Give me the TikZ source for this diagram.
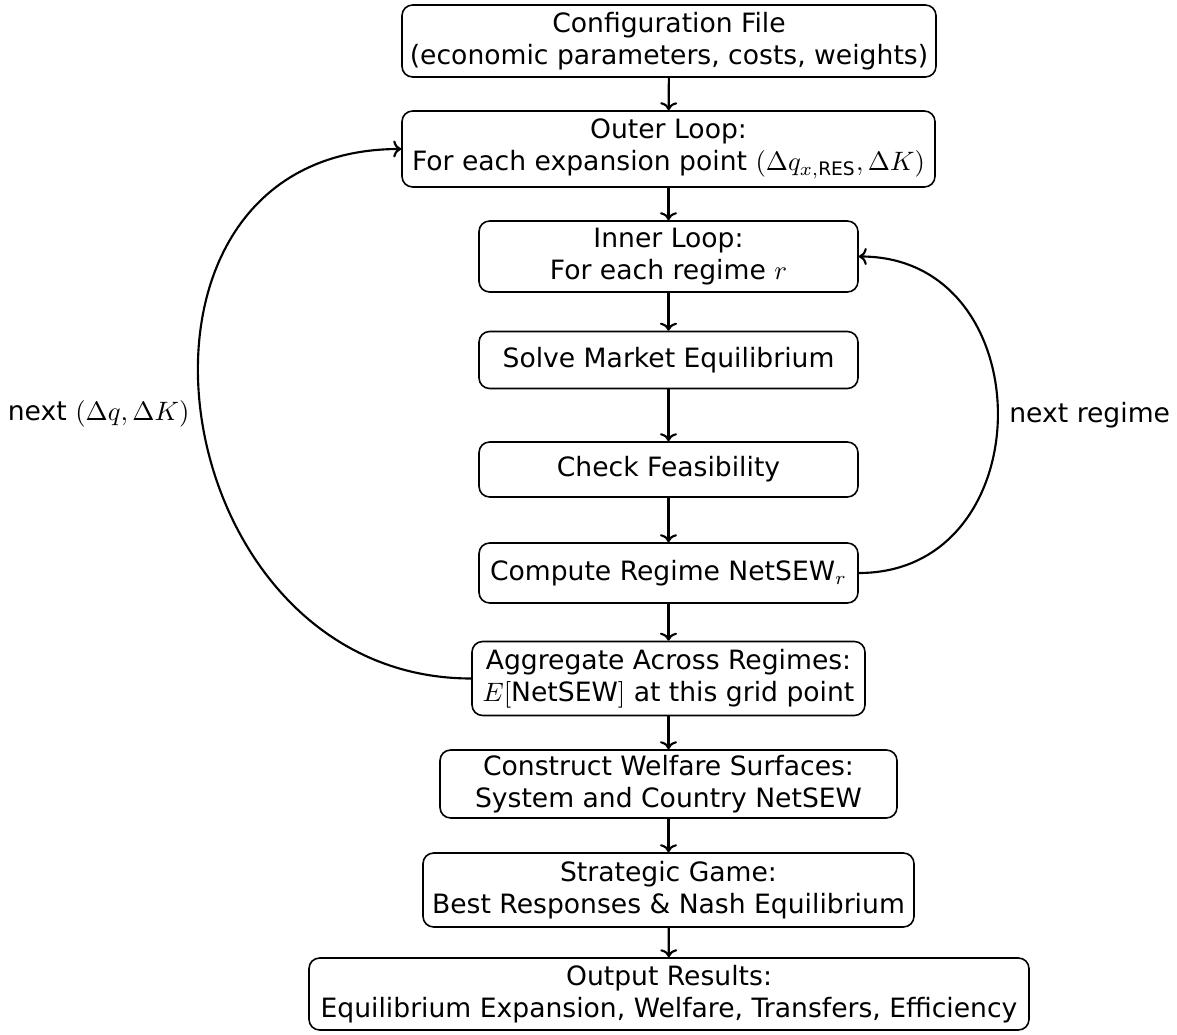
\documentclass[tikz,border=0pt]{standalone}
\usepackage{amsmath}
\usepackage{fontspec}
\setmainfont{DejaVu Sans}
\usetikzlibrary{arrows.meta}
\begin{document}
\begin{tikzpicture}[
  x=0.3759pt, y=-0.3759pt,
  stage/.style={draw, rounded corners=4pt, line width=0.6pt, align=center,
    inner sep=0pt, font=\normalsize},
  tip/.style={-{Computer Modern Rightarrow[length=3pt, width=6.4pt]}},
  flow/.style={tip, line width=0.8pt},
  loopback/.style={tip, line width=0.8pt}
]
\useasboundingbox (0,0) rectangle (1177,1035);

% main pipeline
\node[stage, minimum width=534*0.3759pt, minimum height=72*0.3759pt] (cfg) at (669,41)
  {Configuration File\\(economic parameters, costs, weights)};
\node[stage, minimum width=533*0.3759pt, minimum height=76*0.3759pt] (outer) at (668.5,149)
  {Outer Loop:\\For each expansion point $(\Delta q_{x,\text{RES}},\Delta K)$};
\node[stage, minimum width=379*0.3759pt, minimum height=71*0.3759pt] (inner) at (668.5,256.5)
  {Inner Loop:\\For each regime $r$};
\node[stage, minimum width=379*0.3759pt, minimum height=57*0.3759pt] (solve) at (668.5,360)
  {Solve Market Equilibrium};
\node[stage, minimum width=379*0.3759pt, minimum height=55*0.3759pt] (check) at (668.5,469.5)
  {Check Feasibility};
\node[stage, minimum width=379*0.3759pt, minimum height=60*0.3759pt] (compute) at (668.5,573)
  {Compute Regime NetSEW$_r$};
\node[stage, minimum width=393*0.3759pt, minimum height=74*0.3759pt] (agg) at (668.5,678.5)
  {Aggregate Across Regimes:\\$E[\text{NetSEW}]$ at this grid point};
\node[stage, minimum width=457*0.3759pt, minimum height=68*0.3759pt] (surf) at (668.5,784)
  {Construct Welfare Surfaces:\\System and Country NetSEW};
\node[stage, minimum width=491*0.3759pt, minimum height=74*0.3759pt] (game) at (668.5,890)
  {Strategic Game:\\Best Responses \& Nash Equilibrium};
\node[stage, minimum width=720*0.3759pt, minimum height=72*0.3759pt] (res) at (669,994)
  {Output Results:\\Equilibrium Expansion, Welfare, Transfers, Efficiency};

% forward arrows
\draw[flow] (cfg) -- (outer);
\draw[flow] (outer) -- (inner);
\draw[flow] (inner) -- (solve);
\draw[flow] (solve) -- (check);
\draw[flow] (check) -- (compute);
\draw[flow] (compute) -- (agg);
\draw[flow] (agg) -- (surf);
\draw[flow] (surf) -- (game);
\draw[flow] (game) -- (res);

% loops back
\draw[loopback] (compute.east) to[out=0, in=0, looseness=1.5]
  node[right, inner sep=4pt] {next regime} (inner.east);
\draw[loopback] (agg.west) to[out=180, in=180, looseness=1.5]
  node[left, inner sep=4pt] {next $(\Delta q,\Delta K)$} (outer.west);
\end{tikzpicture}
\end{document}
